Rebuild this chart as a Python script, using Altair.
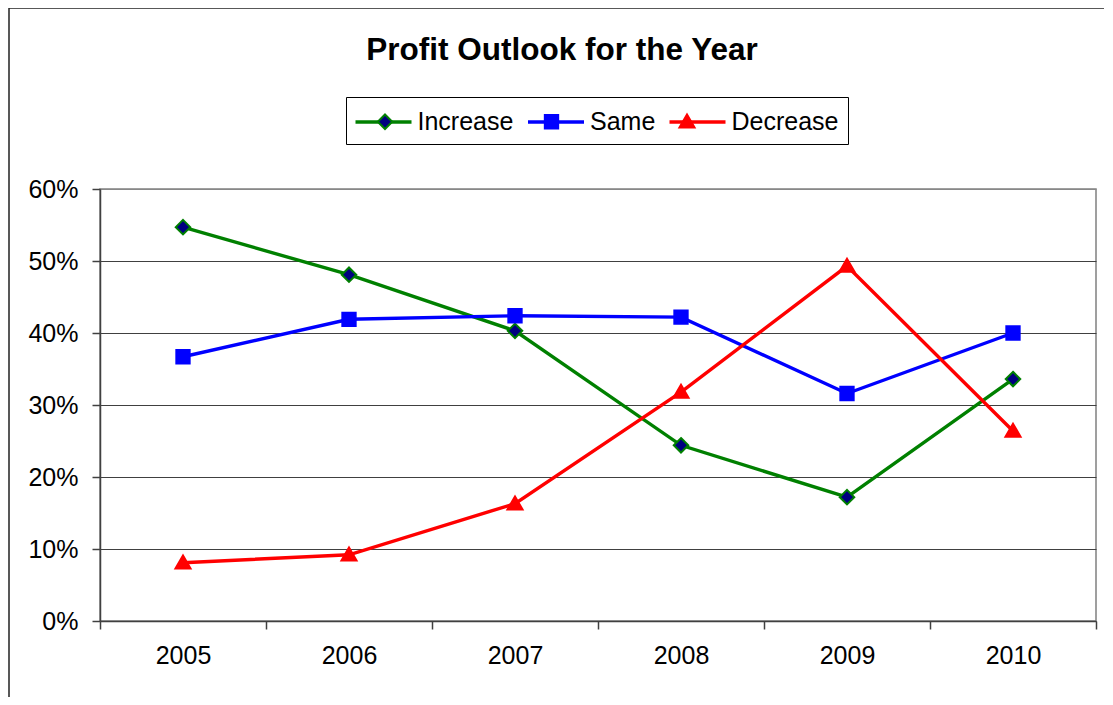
import altair as alt
import pandas as pd

years = ["2005", "2006", "2007", "2008", "2009", "2010"]
series_names = ["Increase", "Same", "Decrease"]
increase = [0.547, 0.481, 0.403, 0.244, 0.172, 0.336]
same = [0.367, 0.419, 0.424, 0.422, 0.316, 0.400]
decrease = [0.081, 0.092, 0.163, 0.318, 0.493, 0.264]
y_ticks = [0.0, 0.1, 0.2, 0.3, 0.4, 0.5, 0.6]

line_colors = ["#008000", "#0000FF", "#FF0000"]
marker_fills = ["#000080", "#0000FF", "#FF0000"]
marker_paths = [
    "M0,-0.5L0.5,0L0,0.5L-0.5,0Z",
    "M-0.46,-0.46H0.46V0.46H-0.46Z",
    "M0,-0.5L0.52,0.4H-0.52Z",
]

rows = []
for name, vals in zip(series_names, [increase, same, decrease]):
    for yr, v in zip(years, vals):
        rows.append({"year": yr, "value": v, "series": name, "series2": name})
df = pd.DataFrame(rows)

FONT = "Liberation Sans"

x_enc = alt.X(
    "year:O",
    scale=alt.Scale(type="band", paddingInner=0, paddingOuter=0),
    axis=alt.Axis(
        title=None, labelAngle=0, tickBand="extent", tickSize=8,
        labelPadding=14, grid=False,
    ),
)
y_enc = alt.Y(
    "value:Q",
    scale=alt.Scale(domain=[0, 0.6], nice=False),
    axis=alt.Axis(
        title=None, format=".0%", values=y_ticks, tickSize=8,
        labelPadding=14, grid=True,
        gridColor={"condition": {"test": "datum.value >= 0.59", "value": "#888888"}, "value": "#404040"},
    ),
)

legend_common = dict(
    orient="none", legendX=246, legendY=-92, direction="horizontal",
    title=None, labelFont=FONT, labelFontSize=25, labelOffset=18,
    columnPadding=6.5, padding=9,
)

lines = alt.Chart(df).mark_line(strokeWidth=3.4).encode(
    x=x_enc, y=y_enc,
    color=alt.Color(
        "series:N", sort=series_names,
        scale=alt.Scale(range=line_colors),
        legend=alt.Legend(
            symbolType="M-2,0H2", symbolSize=784, symbolStrokeWidth=3.4, strokeColor="#000000",
            labelColor="#000000", zindex=1, symbolOffset=12.5, **legend_common,
        ),
    ),
    detail="series:N",
)

legB = dict(symbolSize=841, symbolStrokeWidth=2, labelColor="transparent", symbolOpacity=1,
            zindex=2, symbolOffset=14.5, **legend_common)
points = alt.Chart(df).mark_point(filled=True, size=841, strokeWidth=2, opacity=1).encode(
    x=x_enc, y=y_enc,
    shape=alt.Shape("series2:N", scale=alt.Scale(domain=series_names, range=marker_paths), legend=alt.Legend(**legB)),
    fill=alt.Fill("series2:N", scale=alt.Scale(domain=series_names, range=marker_fills), legend=alt.Legend(**legB)),
    stroke=alt.Stroke("series2:N", scale=alt.Scale(domain=series_names, range=line_colors), legend=alt.Legend(**legB)),
)

one = pd.DataFrame({"t": ["Profit Outlook for the Year"]})
title = alt.Chart(one).mark_text(
    font=FONT, fontSize=31.5, fontWeight="bold", align="center", baseline="alphabetic", color="#000000"
).encode(text="t:N", x=alt.value(462), y=alt.value(-129))

border = alt.Chart(one).mark_rect(filled=False, stroke="#222222", strokeWidth=1.5).encode(
    x=alt.value(-91), x2=alt.value(1200), y=alt.value(-181), y2=alt.value(900)
)

chart = alt.layer(border, lines, points, title).properties(
    width=996, height=432,
    autosize=alt.AutoSizeParams(type="none"),
    padding={"left": 92, "top": 181, "right": 8, "bottom": 76},
    background="white",
).configure_view(
    stroke="#808080", strokeWidth=1.5, fill="white"
).configure_axis(
    labelFont=FONT, labelFontSize=25, labelColor="#000000",
    tickColor="#404040", domainColor="#404040", domainWidth=1.5, tickWidth=1.5,
    gridWidth=1,
)

chart.save("out.html", embed_options={"renderer": "svg", "actions": False})
